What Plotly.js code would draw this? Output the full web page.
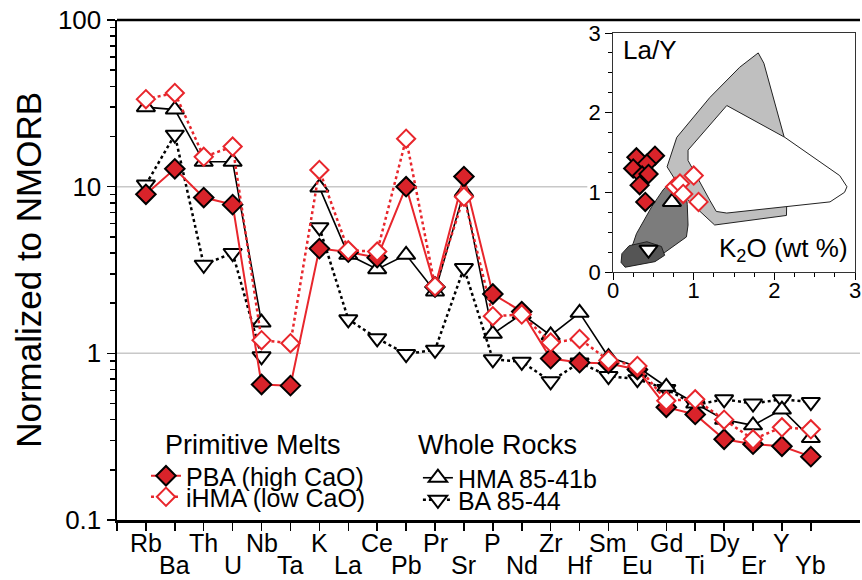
<!DOCTYPE html>
<html>
<head>
<meta charset="utf-8">
<script src="https://cdn.plot.ly/plotly-3.0.1.min.js"></script>
<style>html,body{margin:0;padding:0;background:#fff;}#chart{width:862px;height:580px;}</style>
</head>
<body>
<div id="chart"></div>
<script>
// ---- main spider diagram data (normalized to NMORB) ----
const categories = ['Rb','Ba','Th','U','Nb','Ta','K','La','Ce','Pb','Pr','Sr','P','Nd','Zr','Hf','Sm','Eu','Gd','Ti','Dy','Er','Y','Yb'];
const pbaValues  = [9.0, 12.8, 8.6, 7.8, 0.65, 0.64, 4.25, 4.05, 3.75, 10.0, 2.5, 11.5, 2.27, 1.78, 0.93, 0.88, 0.87, 0.80, 0.475, 0.43, 0.305, 0.285, 0.277, 0.24];
const ihmaValues = [33.5, 36.5, 15.1, 17.4, 1.2, 1.15, 12.6, 4.15, 4.08, 19.4, 2.52, 8.7, 1.67, 1.71, 1.16, 1.22, 0.91, 0.84, 0.52, 0.53, 0.40, 0.305, 0.36, 0.35];
const hmaValues  = [30, 29, 14.1, 14.1, 1.53, null, 9.9, 3.9, 3.2, 3.9, 2.35, 9.3, 1.31, 1.72, 1.28, 1.75, 0.95, 0.83, 0.63, 0.50, 0.40, 0.37, 0.46, 0.31];
const baValues   = [10.3, 20.5, 3.4, 4.0, 0.96, null, 5.7, 1.6, 1.23, 0.99, 1.05, 3.25, 0.92, 0.89, 0.68, 0.88, 0.73, 0.70, 0.61, 0.49, 0.53, 0.50, 0.53, 0.51];
const yTickVals = [0.1, 1, 10, 100];
const yTickText = ['0.1', '1', '10', '100'];

// ---- inset: La/Y vs K2O ----
const pbaK2O  = [0.29, 0.52, 0.25, 0.42, 0.36, 0.44, 0.33, 0.40];
const pbaLaY  = [1.44, 1.46, 1.30, 1.36, 1.21, 1.23, 1.09, 0.88];
const ihmaK2O = [0.77, 0.83, 1.00, 0.87, 1.06];
const ihmaLaY = [1.07, 1.11, 1.21, 0.98, 0.88];
const hmaK2O  = [0.73];
const hmaLaY  = [0.88];
const baK2O   = [0.44];
const baLaY   = [0.28];
const lightFieldX = [1.80, 1.87, 2.12, 2.16, 2.15, 1.26, 0.93, 0.67, 0.79, 1.20, 1.57, 1.80];
const lightFieldY = [2.75, 2.62, 1.70, 1.20, 0.71, 0.59, 0.90, 1.32, 1.69, 2.19, 2.57, 2.75];
const whiteFieldX = [1.41, 2.13, 2.81, 2.90, 2.87, 2.69, 1.41, 1.28, 1.20, 0.93, 0.93, 1.41];
const whiteFieldY = [2.09, 1.69, 1.21, 1.07, 1.00, 0.88, 0.74, 0.76, 0.90, 1.40, 1.53, 2.09];
const darkFieldX  = [0.73, 0.82, 0.89, 0.92, 0.93, 0.91, 0.62, 0.37, 0.15, 0.14, 0.25, 0.29, 0.48, 0.62, 0.73];
const darkFieldY  = [1.15, 1.13, 1.11, 0.85, 0.59, 0.44, 0.23, 0.11, 0.07, 0.15, 0.36, 0.48, 0.82, 1.03, 1.15];
const darkestX = [0.11, 0.20, 0.42, 0.60, 0.64, 0.52, 0.15, 0.10, 0.11];
const darkestY = [0.23, 0.33, 0.38, 0.32, 0.21, 0.13, 0.06, 0.12, 0.23];

const FONT = 'Liberation Sans, Arial, Helvetica, sans-serif';
const RED = '#e8262c';
const RED_FILL = '#d9232a';
const idx = categories.map((c, i) => i);

const traces = [
  // inset fields
  {x: lightFieldX, y: lightFieldY, xaxis: 'x2', yaxis: 'y2', type: 'scatter', mode: 'lines', fill: 'toself',
   fillcolor: '#bfbfbf', line: {color: '#222', width: 1}, showlegend: false, hoverinfo: 'skip'},
  {x: whiteFieldX, y: whiteFieldY, xaxis: 'x2', yaxis: 'y2', type: 'scatter', mode: 'lines', fill: 'toself',
   fillcolor: '#ffffff', line: {color: '#222', width: 1}, showlegend: false, hoverinfo: 'skip'},
  {x: darkFieldX, y: darkFieldY, xaxis: 'x2', yaxis: 'y2', type: 'scatter', mode: 'lines', fill: 'toself',
   fillcolor: '#7c7c7c', line: {color: '#222', width: 1}, showlegend: false, hoverinfo: 'skip'},
  {x: darkestX, y: darkestY, xaxis: 'x2', yaxis: 'y2', type: 'scatter', mode: 'lines', fill: 'toself',
   fillcolor: '#555555', line: {color: '#222', width: 1}, showlegend: false, hoverinfo: 'skip'},
  // inset points
  {x: baK2O, y: baLaY, xaxis: 'x2', yaxis: 'y2', type: 'scatter', mode: 'markers', showlegend: false,
   marker: {symbol: 'triangle-down', size: 16, color: '#fff', line: {color: '#000', width: 2}}},
  {x: hmaK2O, y: hmaLaY, xaxis: 'x2', yaxis: 'y2', type: 'scatter', mode: 'markers', showlegend: false,
   marker: {symbol: 'triangle-up', size: 16, color: '#fff', line: {color: '#000', width: 2}}},
  {x: pbaK2O, y: pbaLaY, xaxis: 'x2', yaxis: 'y2', type: 'scatter', mode: 'markers', showlegend: false,
   marker: {symbol: 'diamond', size: 14, color: RED_FILL, line: {color: '#000', width: 2}}},
  {x: ihmaK2O, y: ihmaLaY, xaxis: 'x2', yaxis: 'y2', type: 'scatter', mode: 'markers', showlegend: false,
   marker: {symbol: 'diamond', size: 14, color: '#fff', line: {color: RED, width: 2}}},
  // main spider
  {x: idx, y: baValues, name: 'BA 85-44', legend: 'legend4', type: 'scatter', mode: 'lines+markers',
   line: {color: '#000', width: 2.5, dash: 'dot'}, connectgaps: false,
   marker: {symbol: 'triangle-down', size: 16, color: '#fff', line: {color: '#000', width: 2}}},
  {x: idx, y: hmaValues, name: 'HMA 85-41b', legend: 'legend3', type: 'scatter', mode: 'lines+markers',
   line: {color: '#000', width: 1.6}, connectgaps: false,
   marker: {symbol: 'triangle-up', size: 16, color: '#fff', line: {color: '#000', width: 2}}},
  {x: idx, y: pbaValues, name: 'PBA (high CaO)', legend: 'legend', type: 'scatter', mode: 'lines+markers',
   line: {color: RED, width: 2},
   marker: {symbol: 'diamond', size: 15, color: RED_FILL, line: {color: '#000', width: 2}}},
  {x: idx, y: ihmaValues, name: 'iHMA (low CaO)', legend: 'legend2', type: 'scatter', mode: 'lines+markers',
   line: {color: RED, width: 2.5, dash: 'dot'},
   marker: {symbol: 'diamond', size: 14, color: '#fff', line: {color: RED, width: 2}}}
];

const annotations = categories.map((c, i) => ({
  text: c, x: i, xref: 'x', yref: 'paper', y: (i % 2 === 0) ? -0.046 : -0.089, borderpad: 0,
  xanchor: 'center', yanchor: 'middle', showarrow: false, font: {size: 25, color: '#000', family: FONT}
}));
annotations.push(
  {text: 'Normalized to NMORB', xref: 'paper', yref: 'paper', x: -0.12, y: 0.5, textangle: -90,
   showarrow: false, xanchor: 'center', yanchor: 'middle', font: {size: 35, color: '#000', family: FONT}},
  {text: 'Primitive Melts', xref: 'paper', yref: 'paper', x: 0.062, y: 0.15, xanchor: 'left', yanchor: 'middle',
   showarrow: false, font: {size: 27, color: '#000', family: FONT}},
  {text: 'Whole Rocks', xref: 'paper', yref: 'paper', x: 0.403, y: 0.15, xanchor: 'left', yanchor: 'middle',
   showarrow: false, font: {size: 27, color: '#000', family: FONT}},
  {text: 'La/Y', xref: 'paper', yref: 'paper', x: 0.679, y: 0.94, xanchor: 'left', yanchor: 'middle',
   showarrow: false, font: {size: 26, color: '#000', family: FONT}},
  {text: 'K<sub>2</sub>O (wt %)', xref: 'paper', yref: 'paper', x: 0.987, y: 0.54, xanchor: 'right', yanchor: 'middle',
   showarrow: false, font: {size: 26, color: '#000', family: FONT}}
);

const shapes = [
  {type: 'line', xref: 'paper', yref: 'paper', x0: 0, x1: 0.633, y0: 2/3, y1: 2/3, layer: 'below', line: {color: '#c8c8c8', width: 1.5}},
  {type: 'line', xref: 'paper', yref: 'paper', x0: 0, x1: 1, y0: 1/3, y1: 1/3, layer: 'below', line: {color: '#c8c8c8', width: 1.5}},
  {type: 'line', xref: 'paper', yref: 'paper', x0: 0, x1: 1, y0: 1, y1: 1, line: {color: '#000', width: 2.5}}
];

const minorLog = [];
[0.1, 1, 10].forEach(d => { for (let k = 2; k <= 9; k++) minorLog.push(d * k); });

function legendBox(x, y) {
  return {x: x, y: y, xanchor: 'left', yanchor: 'middle', bgcolor: 'rgba(0,0,0,0)', borderwidth: 0,
          font: {size: 25, color: '#000', family: FONT}, itemclick: false, itemdoubleclick: false};
}

const layout = {
  width: 862, height: 580,
  margin: {l: 117, r: 2, t: 20, b: 60},
  paper_bgcolor: '#fff', plot_bgcolor: '#fff',
  font: {family: FONT, color: '#000'},
  showlegend: true,
  legend: legendBox(0.039, 0.088),
  legend2: legendBox(0.039, 0.046),
  legend3: legendBox(0.405, 0.084),
  legend4: legendBox(0.405, 0.040),
  xaxis: {
    range: [-1, 24.7], tickvals: idx.concat([-1]), showticklabels: false,
    ticks: 'outside', ticklen: 8, tickwidth: 1.5, tickcolor: '#000',
    showline: true, linecolor: '#000', linewidth: 2.5, showgrid: false, zeroline: false, fixedrange: true
  },
  yaxis: {
    type: 'log', range: [-1, 2], tickvals: yTickVals, ticktext: yTickText,
    ticks: 'outside', ticklen: 8, tickwidth: 1.5, tickcolor: '#000', ticklabelstandoff: 0,
    tickfont: {size: 26, color: '#000', family: FONT},
    minor: {tickvals: minorLog, ticks: 'outside', ticklen: 5, tickwidth: 1.5, tickcolor: '#000', showgrid: false},
    showline: true, linecolor: '#000', linewidth: 2.5, showgrid: false, zeroline: false, fixedrange: true
  },
  xaxis2: {
    domain: [0.6676, 0.9933], anchor: 'y2', range: [0, 3], dtick: 1, tick0: 0,
    ticks: 'outside', ticklen: 7, tickwidth: 1, tickcolor: '#000', ticklabelstandoff: -8,
    minor: {dtick: 0.25, ticks: 'outside', ticklen: 4, tickwidth: 1, tickcolor: '#000', showgrid: false},
    tickfont: {size: 22, color: '#000', family: FONT},
    showline: true, mirror: true, linecolor: '#333', linewidth: 1, showgrid: false, zeroline: false, fixedrange: true
  },
  yaxis2: {
    domain: [0.496, 0.974], anchor: 'x2', range: [0, 3], dtick: 1, tick0: 0,
    ticks: 'outside', ticklen: 7, tickwidth: 1, tickcolor: '#000',
    minor: {dtick: 0.25, ticks: 'outside', ticklen: 4, tickwidth: 1, tickcolor: '#000', showgrid: false},
    tickfont: {size: 22, color: '#000', family: FONT},
    showline: true, mirror: true, linecolor: '#333', linewidth: 1, showgrid: false, zeroline: false, fixedrange: true
  },
  annotations: annotations,
  shapes: shapes
};

Plotly.newPlot('chart', traces, layout, {displayModeBar: false, staticPlot: true});
</script>
</body>
</html>
